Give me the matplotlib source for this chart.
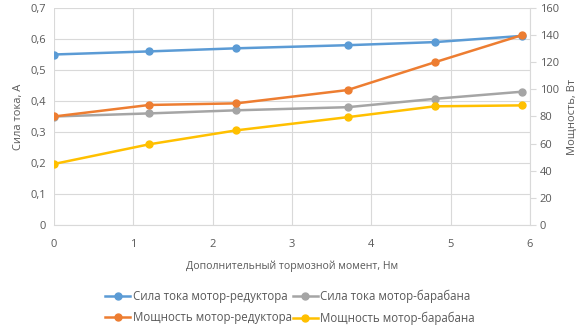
import matplotlib.pyplot as plt
from matplotlib.ticker import FuncFormatter

plt.rcParams['font.family'] = ['Open Sans', 'DejaVu Sans']

# Data
moment = [0, 1.2, 2.3, 3.7, 4.8, 5.9]
current_reducer = [0.55, 0.56, 0.57, 0.58, 0.59, 0.61]
current_drum = [0.35, 0.36, 0.37, 0.38, 0.407, 0.43]
power_reducer = [80, 88.5, 89.7, 99.5, 120, 140]
power_drum = [45, 59.5, 69.8, 79.5, 87.5, 88.2]

labels = ['Сила тока мотор-редуктора', 'Сила тока мотор-барабана',
          'Мощность мотор-редуктора', 'Мощность мотор-барабана']
colors = ['#5B9BD5', '#A5A5A5', '#ED7D31', '#FFC000']
text_color = '#595959'
grid_color = '#D9D9D9'

fig = plt.figure(figsize=(5.8, 3.3), dpi=100)
ax = fig.add_axes([54 / 580, 1 - 225 / 330, (530 - 54) / 580, (225 - 8) / 330])
ax2 = ax.twinx()

l1, = ax.plot(moment, current_reducer, color=colors[0], marker='o', ms=5, lw=1.8)
l2, = ax.plot(moment, current_drum, color=colors[1], marker='o', ms=5, lw=1.8)
l3, = ax2.plot(moment, power_reducer, color=colors[2], marker='o', ms=5, lw=1.8)
l4, = ax2.plot(moment, power_drum, color=colors[3], marker='o', ms=5, lw=1.8)

ax.set_xlim(0, 6)
ax.set_ylim(0, 0.7)
ax2.set_ylim(0, 160)
ax.set_yticks([i / 10 for i in range(8)])
ax2.set_yticks(range(0, 161, 20))
ax.set_xticks(range(7))
ax.yaxis.set_major_formatter(FuncFormatter(lambda v, p: ('%g' % round(v, 1)).replace('.', ',')))

ax.grid(True, color=grid_color, lw=0.8)
ax.set_axisbelow(True)
for a in (ax, ax2):
    for s in a.spines.values():
        s.set_visible(False)
    a.tick_params(colors=text_color, labelsize=8, length=0, pad=6)
ax.tick_params(axis='x', pad=10)
ax2.spines['right'].set_visible(True)
ax2.spines['right'].set_color(grid_color)
ax2.tick_params(axis='y', length=4, color=grid_color, pad=3)
ax.spines['bottom'].set_visible(True)
ax.spines['bottom'].set_color(grid_color)

ax.set_xlabel('Дополнительный тормозной момент, Нм', color=text_color, fontsize=7.6, labelpad=8)
ax.set_ylabel('Сила тока, А', color=text_color, fontsize=8, labelpad=4)
ax2.set_ylabel('Мощность, Вт', color=text_color, fontsize=8, labelpad=6)

# matplotlib fills legend columns first, so reorder to get the reference rows
leg = fig.legend([l1, l3, l2, l4], [labels[0], labels[2], labels[1], labels[3]],
                 loc='center', bbox_to_anchor=(0.5, 1 - 307 / 330),
                 ncol=2, frameon=False, fontsize=8.3, handlelength=2.2, columnspacing=0.1,
                 handletextpad=0.2, labelspacing=0.75)
for t in leg.get_texts():
    t.set_color(text_color)

fig.savefig('out.png', dpi=100)
